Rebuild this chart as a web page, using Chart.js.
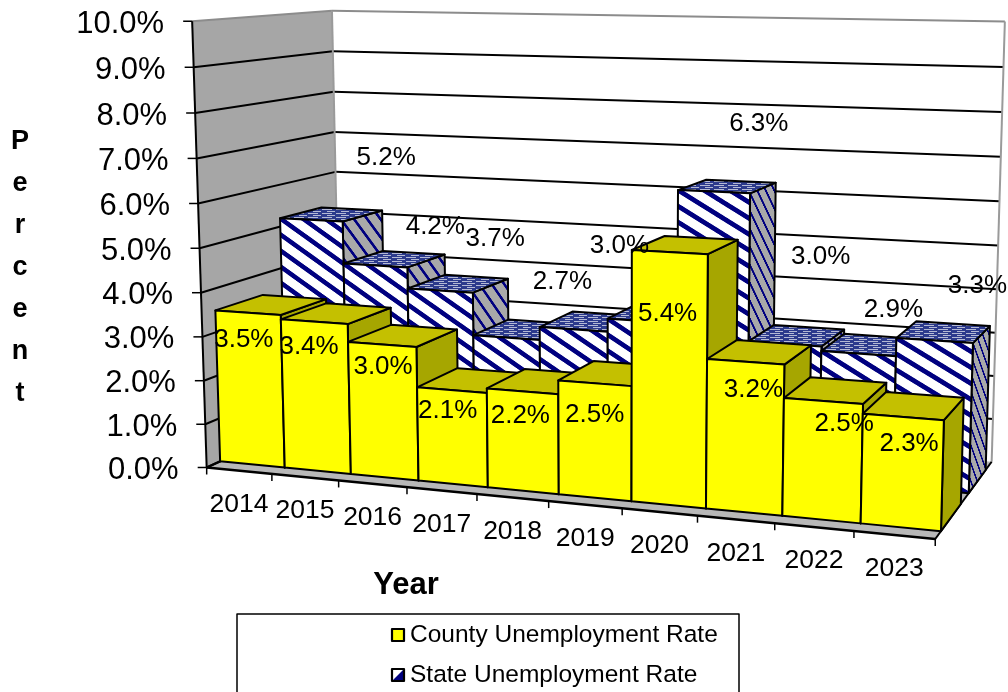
<!DOCTYPE html>
<html>
<head>
<meta charset="utf-8">
<title>Unemployment Rate</title>
<script src="https://cdn.jsdelivr.net/npm/chart.js@4"></script>
<style>
  html, body { margin: 0; padding: 0; background: #fff; overflow: hidden; }
  canvas { display: block; }
</style>
</head>
<body>
<canvas id="rateChart" width="1008" height="692"></canvas>
<script>
const years = ["2014","2015","2016","2017","2018","2019","2020","2021","2022","2023"];
const countyRates = [3.5,3.4,3.0,2.1,2.2,2.5,5.4,3.2,2.5,2.3];
// 2019 state label sits behind the 2020 columns, value estimated from the column height
const stateRates = [5.2,4.2,3.7,2.7,3.0,3.3,6.3,3.0,2.9,3.3];

// nudges in px from the middle of each column's top front edge
const countyLabelShift = [[-4,27],[-5,25],[1,22],[-4,21],[-2,25],[0,32],[-2,62],[8,28],[21,23],[6,27]];
const stateLabelShift = [[75,-62],[60,-39],[55,-52],[56,-56],[46,-84],null,[45,-68],[36,-87],[35,-44],[43,-55]];

// box corners on screen: [across, up, into the page, screenX, screenY]
// front left corners are listed twice so the fit holds the value axis tighter
const boxCorners = [
  [0,0,0,207,466],[0,0,0,207,466],[0,0.5,0,199.5,248],[0,1,0,191.5,22],[0,1,0,191.5,22],
  [0,0,1,340,410],[0,0.5,1,336.5,210],[0,1,1,333,10],
  [1,0,1,991,460],[1,0.5,1,998,245],[1,1,1,1005,22],
  [1,0,0,936,541]
];

const FONT = '"Liberation Sans", Arial, sans-serif';
const NAVY = "#000080";

// least squares for the 11 terms of the perspective projection
function fitProjection(pts) {
  const rows = [];
  pts.forEach(([u,v,w,x,y]) => {
    rows.push([u,v,w,1,0,0,0,0,-x*u,-x*v,-x*w,x]);
    rows.push([0,0,0,0,u,v,w,1,-y*u,-y*v,-y*w,y]);
  });
  const n = 11;
  const m = [];
  for (let i=0;i<n;i++) {
    m.push([]);
    for (let j=0;j<=n;j++) {
      let s = 0;
      rows.forEach(r => { s += r[i]*r[j]; });
      m[i].push(s);
    }
  }
  for (let i=0;i<n;i++) {
    let p = i;
    for (let k=i+1;k<n;k++) if (Math.abs(m[k][i])>Math.abs(m[p][i])) p = k;
    [m[i],m[p]] = [m[p],m[i]];
    for (let k=0;k<n;k++) {
      if (k===i) continue;
      const f = m[k][i]/m[i][i];
      for (let j=i;j<=n;j++) m[k][j] -= f*m[i][j];
    }
  }
  return m.map((r,i) => r[n]/r[i]);
}

const P = fitProjection(boxCorners);
function project(u,v,w) {
  const d = P[8]*u+P[9]*v+P[10]*w+1;
  return [(P[0]*u+P[1]*v+P[2]*w+P[3])/d, (P[4]*u+P[5]*v+P[6]*w+P[7])/d];
}

function makeStripeTile(bg, stripe, lineWidth) {
  const c = document.createElement("canvas");
  c.width = 40; c.height = 40;
  const g = c.getContext("2d");
  g.fillStyle = bg;
  g.fillRect(0,0,40,40);
  g.strokeStyle = stripe;
  g.lineWidth = lineWidth;
  [[-40,0],[0,0],[0,-40]].forEach(([ox,oy]) => {
    g.beginPath();
    g.moveTo(ox-5,oy-5);
    g.lineTo(ox+45,oy+45);
    g.stroke();
  });
  return c;
}

function makeTopTile() {
  const c = document.createElement("canvas");
  c.width = 14; c.height = 4;
  const g = c.getContext("2d");
  g.fillStyle = "#2c3a8c";
  g.fillRect(0,0,14,4);
  g.fillStyle = "#b4b9d4";
  g.fillRect(0,1,10,1);
  g.fillRect(5,3,8,1);
  return c;
}

const frontTile = makeStripeTile("#ffffff", NAVY, 10);
const sideTile = makeStripeTile("#a9a9a9", NAVY, 7);
const topTile = makeTopTile();

function quad(ctx, pts, fill) {
  ctx.beginPath();
  pts.forEach((p,i) => i ? ctx.lineTo(p[0],p[1]) : ctx.moveTo(p[0],p[1]));
  ctx.closePath();
  if (fill) { ctx.fillStyle = fill; ctx.fill(); }
}

function line(ctx, a, b, color, width) {
  ctx.strokeStyle = color;
  ctx.lineWidth = width;
  ctx.beginPath();
  ctx.moveTo(a[0],a[1]);
  ctx.lineTo(b[0],b[1]);
  ctx.stroke();
}

// stripes follow the face: tile x runs along the given edge, tile y straight down
function facePattern(ctx, tile, origin, edge, tiles, drop) {
  const pat = ctx.createPattern(tile, "repeat");
  pat.setTransform(new DOMMatrix([
    edge[0]/tiles/40, edge[1]/tiles/40, 0, drop/40, origin[0], origin[1]
  ]));
  return pat;
}

function drawColumn(ctx, u0, u1, v, band, faces) {
  const [w0,w1] = band;
  const a = project(u0,v,w0), b = project(u1,v,w0);
  const c = project(u1,v,w1), d = project(u0,v,w1);
  const a0 = project(u0,0,w0), b0 = project(u1,0,w0), c0 = project(u1,0,w1);
  const front = [a,b,b0,a0], side = [b,c,c0,b0], top = [a,b,c,d];

  const fronts = faces.striped
    ? facePattern(ctx, frontTile, a, [b[0]-a[0],b[1]-a[1]], 2.6, 16) : faces.front;
  const sides = faces.striped
    ? facePattern(ctx, sideTile, b, [c[0]-b[0],c[1]-b[1]], 3.6, 18) : faces.side;
  const tops = faces.striped ? ctx.createPattern(topTile, "repeat") : faces.top;

  ctx.lineWidth = 2;
  ctx.strokeStyle = "#000";
  ctx.lineJoin = "round";
  [[side,sides],[top,tops],[front,fronts]].forEach(([pts,fill]) => {
    quad(ctx, pts, fill);
    ctx.stroke();
  });
}

function centerText(ctx, text, x, y, font) {
  ctx.font = font;
  ctx.fillStyle = "#000";
  ctx.textAlign = "center";
  ctx.textBaseline = "middle";
  ctx.fillText(text, x, y);
}

const perspectivePlugin = {
  id: "perspective",
  afterDatasetsDraw(chart) {
    const ctx = chart.ctx;
    const area = chart.chartArea;
    const xs = chart.scales.x, ys = chart.scales.y;
    const toU = px => (px-area.left)/area.width;
    const toV = py => (area.bottom-py)/area.height;

    ctx.save();
    // walls and floor
    quad(ctx, [project(0,0,0),project(0,1,0),project(0,1,1),project(0,0,1)], "#a6a6a6");
    quad(ctx, [project(0,0,0),project(1,0,0),project(1,0,1),project(0,0,1)], "#b8b8b8");

    ys.ticks.forEach(t => {
      const v = toV(ys.getPixelForValue(t.value));
      const isTop = t.value === ys.max;
      const col = isTop ? "#8c8c8c" : "#000";
      line(ctx, project(0,v,0), project(0,v,1), col, 2);
      if (v > 0) line(ctx, project(0,v,1), project(1,v,1), col, 2);
      const p = project(0,v,0);
      line(ctx, [p[0]-9,p[1]], p, "#000", 1.5);
      ctx.font = "31px "+FONT;
      ctx.fillStyle = "#000";
      ctx.textAlign = "right";
      ctx.textBaseline = "middle";
      ctx.fillText(t.label, p[0]-28, p[1]+3);
    });
    line(ctx, project(0,0,1), project(0,1,1), "#9a9a9a", 2);
    line(ctx, project(1,0,1), project(1,1,1), "#9a9a9a", 2);
    line(ctx, project(0,0,0), project(0,1,0), "#000", 2);
    line(ctx, project(0,0,0), project(0,0,1), "#000", 2);
    line(ctx, project(0,0,0), project(1,0,0), "#000", 2.5);
    line(ctx, project(1,0,0), project(1,0,1), "#000", 2);

    // x ticks and year labels
    const slot = xs.getPixelForValue(1)-xs.getPixelForValue(0);
    for (let i=0;i<=years.length;i++) {
      const p = project(toU(xs.getPixelForValue(0)-slot/2+slot*i),0,0);
      line(ctx, p, [p[0],p[1]+7], "#000", 1.5);
    }
    xs.ticks.forEach((t,i) => {
      const p = project(toU(xs.getPixelForValue(i)),0,0);
      centerText(ctx, t.label, p[0], p[1]+34, "26.5px "+FONT);
    });

    // back row first, each row left to right so nearer columns cover the ones behind
    const order = [1,0];
    order.forEach(ds => {
      const set = chart.data.datasets[ds];
      chart.getDatasetMeta(ds).data.forEach(bar => {
        drawColumn(ctx, toU(bar.x-bar.width/2), toU(bar.x+bar.width/2), toV(bar.y), set.band, set.faces);
      });
    });

    order.forEach(ds => {
      const set = chart.data.datasets[ds];
      chart.getDatasetMeta(ds).data.forEach((bar,i) => {
        const shift = set.labelShift[i];
        if (!shift) return;
        const p = project(toU(bar.x),toV(bar.y),set.band[0]);
        centerText(ctx, set.data[i].toFixed(1)+"%", p[0]+shift[0], p[1]+shift[1], "26px "+FONT);
      });
    });

    // axis titles
    centerText(ctx, xs.options.title.text, 406, 585, "bold 31px "+FONT);
    ys.options.title.text.split("").forEach((ch,i) => {
      centerText(ctx, ch, 20, 142+i*41.9, "bold 27px "+FONT);
    });

    // legend box runs off the bottom of the canvas
    ctx.strokeStyle = "#000";
    ctx.lineWidth = 1.5;
    ctx.beginPath();
    ctx.moveTo(237,700);
    ctx.lineTo(237,614);
    ctx.lineTo(739,614);
    ctx.lineTo(739,700);
    ctx.stroke();
    chart.data.datasets.forEach((set,i) => {
      const cy = 635+i*40;
      ctx.fillStyle = set.faces.striped ? "#fff" : set.faces.front;
      ctx.fillRect(392,cy-6,12,12);
      if (set.faces.striped) quad(ctx, [[404,cy-6],[404,cy+6],[392,cy+6]], NAVY);
      ctx.lineWidth = 2.2;
      ctx.strokeStyle = "#000";
      ctx.strokeRect(392,cy-6,12,12);
      ctx.font = "24.5px "+FONT;
      ctx.fillStyle = "#000";
      ctx.textAlign = "left";
      ctx.textBaseline = "middle";
      ctx.fillText(set.label, 410, cy);
    });
    ctx.restore();
  }
};

new Chart(document.getElementById("rateChart"), {
  type: "bar",
  data: {
    labels: years,
    datasets: [
      {
        label: "County Unemployment Rate",
        data: countyRates,
        backgroundColor: "transparent",
        band: [0.09,0.42],
        faces: { front:"#ffff00", top:"#c4c000", side:"#a6a600" },
        labelShift: countyLabelShift
      },
      {
        label: "State Unemployment Rate",
        data: stateRates,
        backgroundColor: "transparent",
        band: [0.56,0.88],
        faces: { striped:true },
        labelShift: stateLabelShift
      }
    ]
  },
  options: {
    responsive: false,
    animation: false,
    layout: { padding: 0 },
    datasets: { bar: { grouped:false, categoryPercentage:1, barPercentage:1 } },
    plugins: { legend: {display:false}, tooltip: {enabled:false}, title: {display:false} },
    scales: {
      x: { display:false, title: { text:"Year" } },
      y: {
        display:false,
        min:0,
        max:10,
        title: { text:"Percent" },
        ticks: { stepSize:1, callback: v => v.toFixed(1)+"%" }
      }
    }
  },
  plugins: [perspectivePlugin]
});
</script>
</body>
</html>
